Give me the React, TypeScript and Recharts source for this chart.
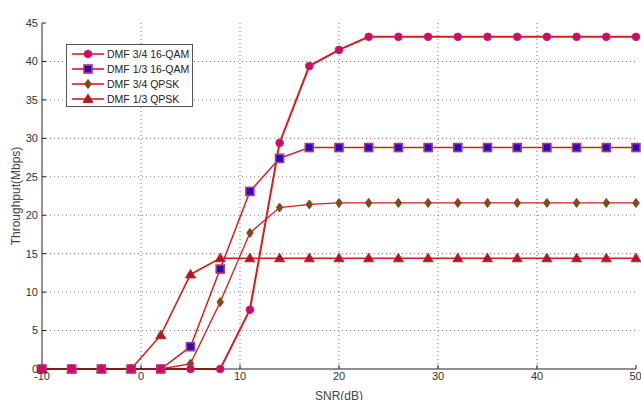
import React from 'react';
import { LineChart, Line, XAxis, YAxis, CartesianGrid, Legend } from 'recharts';

if (typeof document !== 'undefined') document.body.style.margin = '0';

const snr = [-10, -7, -4, -1, 2, 5, 8, 11, 14, 17, 20, 23, 26, 29, 32, 35, 38, 41, 44, 47, 50];

const qam16_34 = [0, 0, 0, 0, 0, 0, 0, 7.7, 29.4, 39.4, 41.5, 43.2, 43.2, 43.2, 43.2, 43.2, 43.2, 43.2, 43.2, 43.2, 43.2];
const qam16_13 = [0, 0, 0, 0, 0, 2.9, 13, 23.1, 27.4, 28.8, 28.8, 28.8, 28.8, 28.8, 28.8, 28.8, 28.8, 28.8, 28.8, 28.8, 28.8];
const qpsk_34 = [0, 0, 0, 0, 0, 0.7, 8.7, 17.7, 21, 21.4, 21.6, 21.6, 21.6, 21.6, 21.6, 21.6, 21.6, 21.6, 21.6, 21.6, 21.6];
const qpsk_13 = [0, 0, 0, 0, 4.4, 12.3, 14.4, 14.4, 14.4, 14.4, 14.4, 14.4, 14.4, 14.4, 14.4, 14.4, 14.4, 14.4, 14.4, 14.4, 14.4];

const xTicks = [-10, 0, 10, 20, 30, 40, 50];
const yTicks = [0, 5, 10, 15, 20, 25, 30, 35, 40, 45];

const data = snr.map((s, i) => ({
  snr: s,
  a: qam16_34[i],
  b: qam16_13[i],
  c: qpsk_34[i],
  d: qpsk_13[i],
}));

const LINE = '#d81c1c';
const FONT = 'Arial, "Liberation Sans", sans-serif';

type Shape = 'circle' | 'square' | 'diamond' | 'triangle';

const marker = (shape: Shape, cx: number, cy: number, key?: string | number) => {
  switch (shape) {
    case 'circle':
      return <circle key={key} cx={cx} cy={cy} r={3.8} fill="#cc0a6e" stroke="#d41a5a" strokeWidth={1} />;
    case 'square':
      return <rect key={key} x={cx - 4} y={cy - 4} width={8} height={8} fill="#1a10c8" stroke="#c0306a" strokeWidth={1.6} />;
    case 'diamond':
      return (
        <polygon
          key={key}
          points={`${cx},${cy - 4.5} ${cx + 3.2},${cy} ${cx},${cy + 4.5} ${cx - 3.2},${cy}`}
          fill="#6e5512"
          stroke="#b02a18"
          strokeWidth={1}
        />
      );
    default:
      return (
        <polygon
          key={key}
          points={`${cx},${cy - 5} ${cx + 5},${cy + 3.5} ${cx - 5},${cy + 3.5}`}
          fill="#a81830"
          stroke="#d02020"
          strokeWidth={1}
        />
      );
  }
};

const dotFor = (shape: Shape) => (props: any) => {
  const { cx, cy, index } = props;
  if (cx == null || cy == null) return <g key={index} />;
  return marker(shape, cx, cy, index);
};

const legendItems: { name: string; shape: Shape }[] = [
  { name: 'DMF 3/4 16-QAM', shape: 'circle' },
  { name: 'DMF 1/3 16-QAM', shape: 'square' },
  { name: 'DMF 3/4 QPSK', shape: 'diamond' },
  { name: 'DMF 1/3 QPSK', shape: 'triangle' },
];

const renderLegend = () => (
  <div
    style={{
      width: 127,
      height: 63,
      border: '1px solid #555',
      background: '#fff',
      boxSizing: 'border-box',
      paddingTop: 2,
    }}
  >
    {legendItems.map((it) => (
      <div key={it.name} style={{ display: 'flex', alignItems: 'center', height: 14.8 }}>
        <svg width={40} height={12} style={{ flex: 'none' }}>
          <line x1={5} x2={37} y1={6} y2={6} stroke={LINE} strokeWidth={1.6} />
          {marker(it.shape, 21, 6)}
        </svg>
        <span style={{ fontFamily: FONT, fontSize: 10.5, color: '#222', whiteSpace: 'nowrap' }}>{it.name}</span>
      </div>
    ))}
  </div>
);

export default function App() {
  return (
    <LineChart width={641} height={400} data={data} margin={{ top: 23, right: 5, left: 0, bottom: 0 }}>
      <CartesianGrid
        stroke="#777"
        strokeDasharray="1 3"
        verticalValues={[0, 10, 20, 30, 40]}
        horizontalValues={[5, 10, 15, 20, 25, 30, 35, 40]}
      />
      <XAxis
        dataKey="snr"
        type="number"
        domain={[-10, 50]}
        ticks={xTicks}
        height={31}
        stroke="#222"
        tickSize={-4}
        tickMargin={7}
        tick={{ fontSize: 11, fill: '#333', fontFamily: FONT }}
        label={{ value: 'SNR(dB)', position: 'insideBottom', offset: 0, fontSize: 12, fill: '#444', fontFamily: FONT }}
      />
      <XAxis
        xAxisId="top"
        orientation="top"
        dataKey="snr"
        type="number"
        domain={[-10, 50]}
        ticks={xTicks}
        height={0}
        stroke="#222"
        tickSize={-4}
        tickFormatter={() => ''}
        label={{ value: 'Non-Adaptive DMF', position: 'top', offset: 8, fontSize: 10, fill: '#222', fontFamily: FONT }}
      />
      <YAxis
        type="number"
        domain={[0, 45]}
        ticks={yTicks}
        width={42}
        stroke="#222"
        tickSize={-4}
        tickMargin={8}
        tick={{ fontSize: 11, fill: '#333', fontFamily: FONT }}
        label={{
          value: 'Throughput(Mbps)',
          angle: -90,
          position: 'insideLeft',
          offset: 16,
          fontSize: 12,
          fill: '#444',
          fontFamily: FONT,
          style: { textAnchor: 'middle' },
        }}
      />
      <YAxis
        yAxisId="right"
        orientation="right"
        type="number"
        domain={[0, 45]}
        ticks={yTicks}
        width={0}
        stroke="#222"
        tickSize={-4}
        tickFormatter={() => ''}
      />
      <Legend
        layout="horizontal"
        verticalAlign="middle"
        align="center"
        content={renderLegend}
        wrapperStyle={{ left: 66, top: 44, width: 127 }}
      />
      <Line dataKey="d" name="DMF 1/3 QPSK" stroke={LINE} strokeWidth={1.6} dot={dotFor('triangle')} isAnimationActive={false} />
      <Line dataKey="c" name="DMF 3/4 QPSK" stroke={LINE} strokeWidth={1.3} dot={dotFor('diamond')} isAnimationActive={false} />
      <Line dataKey="b" name="DMF 1/3 16-QAM" stroke={LINE} strokeWidth={1.5} dot={dotFor('square')} isAnimationActive={false} />
      <Line dataKey="a" name="DMF 3/4 16-QAM" stroke={LINE} strokeWidth={2} dot={dotFor('circle')} isAnimationActive={false} />
    </LineChart>
  );
}
